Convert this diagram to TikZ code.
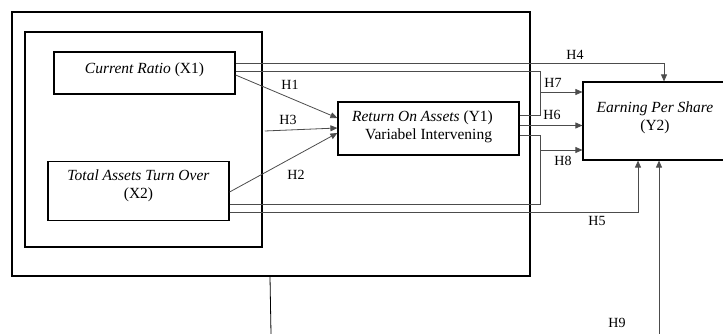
\documentclass[tikz,border=0pt]{standalone}
\usepackage{fontspec}
\setmainfont{Liberation Serif}
\usetikzlibrary{positioning,arrows.meta,calc}

\begin{document}
\begin{tikzpicture}[x=1pt,y=-1pt,
  frame/.style={draw,line width=1.5pt,inner sep=0pt},
  var/.style={draw,line width=1.2pt,align=center,inner sep=0pt,font=\fontsize{15.5}{18}\selectfont},
  hyline/.style={draw=black!70,line width=0.8pt},
  hyarrow/.style={hyline,-{Triangle[length=7pt,width=6pt]}},
  hyp/.style={inner sep=1pt,font=\fontsize{14}{16}\selectfont}
]
\useasboundingbox (0,0) rectangle (723,334);
\node[frame,minimum width=518pt,minimum height=264pt] (outer) at (271,144) {};
\node[frame,minimum width=237pt,minimum height=215pt] (inner) at (143.5,139.5) {};
\node[var,minimum width=181pt,minimum height=42pt] (cr) at (144.5,73) {\textit{Current Ratio} (X1)\\[-8pt]};
\node[var,minimum width=181pt,minimum height=59pt] (ta) at (138.5,191) {\textit{Total Assets Turn Over}\\(X2)\\[-4pt]};
\node[var,minimum width=181pt,minimum height=53pt] (roa) at (428.5,128.5) {\textit{Return On Assets} (Y1)\hspace*{12pt}\\Variabel Intervening\hspace*{12pt}\\[-11pt]};
\node[var,minimum width=144pt,minimum height=78pt] (eps) at (655,121) {\textit{Earning Per Share}\\(Y2)\\[-8pt]};
\coordinate (j7) at (540,92);
\coordinate (j8) at (540,150);
\coordinate (h9) at (659,334);
\coordinate (low) at (271,334);

% X1, X2 -> Y1
\draw[hyarrow] ($(cr.east)+(0,2)$) -- ($(roa.west)+(0,-10.5)$);
\draw[hyarrow] ($(inner.east)+(2,-8.5)$) -- ($(roa.west)+(0,-0.5)$);
\draw[hyarrow] ($(ta.east)+(0,1)$) -- ($(roa.west)+(0,4.5)$);
% direct and mediated paths -> Y2
\draw[hyarrow] ($(cr.east)+(0,-10)$) -| ($(eps.north)+(9,0)$);
\draw[hyline] ($(cr.east)+(0,-2)$) -| (j7);
\draw[hyline] ($(roa.east)+(0,-13.5)$) -| (j7);
\draw[hyarrow] (j7) -- (j7 -| eps.west);
\draw[hyarrow] ($(roa.east)+(0,-3)$) -- ($(eps.west)+(0,4.5)$);
\draw[hyline] ($(roa.east)+(0,6.5)$) -| (j8);
\draw[hyline] ($(ta.east)+(0,13)$) -| (j8);
\draw[hyarrow] (j8) -- (j8 -| eps.west);
\draw[hyarrow] ($(ta.east)+(0,21)$) -| ($(eps.south)+(-17,0)$);
\draw[hyarrow] (h9) -- ($(eps.south)+(4,0)$);
\draw[line width=0.8pt] ($(outer.south)+(-1,0)$) -- (low);

\node[hyp] (h1) at (290,85) {H1};
\node[hyp] (h3) at (288,120) {H3};
\node[hyp] (h2) at (296,175) {H2};
\node[hyp] (h4) at (575,55) {H4};
\node[hyp] (h7) at (553,83) {H7};
\node[hyp] (h6) at (552,115) {H6};
\node[hyp] (h8) at (563,161) {H8};
\node[hyp] (h5) at (597,221) {H5};
\node[hyp] (h9l) at (617,323) {H9};
\end{tikzpicture}
\end{document}
